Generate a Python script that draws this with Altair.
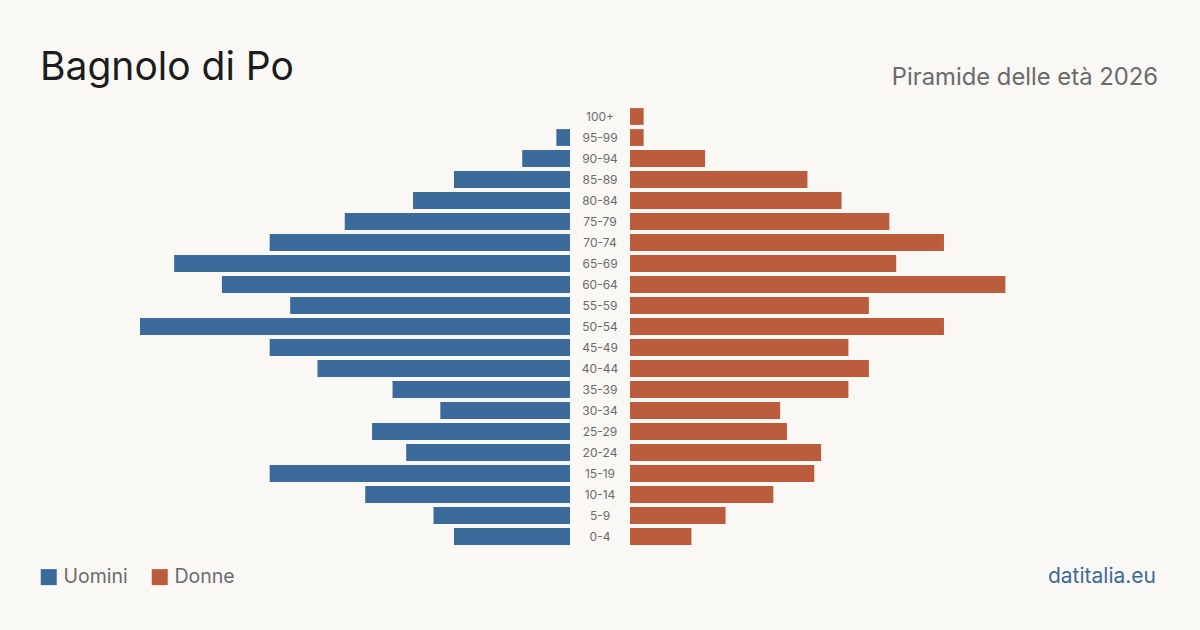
import altair as alt
import pandas as pd

# Age classes, bottom to top
ages = ["0-4", "5-9", "10-14", "15-19", "20-24", "25-29", "30-34", "35-39",
        "40-44", "45-49", "50-54", "55-59", "60-64", "65-69", "70-74",
        "75-79", "80-84", "85-89", "90-94", "95-99", "100+"]
men = [17, 20, 30, 44, 24, 29, 19, 26, 37, 44, 63, 41, 51, 58, 44, 33, 23, 17, 7, 2, 0]
women = [9, 14, 21, 27, 28, 23, 22, 32, 35, 32, 46, 35, 55, 39, 46, 38, 31, 26, 11, 2, 2]
sexes = ["Uomini", "Donne"]

BLUE = "#3b6b9b"
ORANGE = "#bb5d3d"
BG = "#f9f8f4"
FONT = "Inter"

# Plot geometry: each half is 430 px wide, the centre label column 60 px.
HALF_PX = 430
GAP_PX = 30
MAX_V = max(max(men), max(women))
GAP = MAX_V * GAP_PX / HALF_PX  # half-width of the label column, in people
LIM = MAX_V + GAP

rows = []
for a, m, w in zip(ages, men, women):
    rows.append({"eta": a, "sesso": "Uomini", "n": m, "start": -GAP, "end": -GAP - m})
    rows.append({"eta": a, "sesso": "Donne", "n": w, "start": GAP, "end": GAP + w})
df = pd.DataFrame(rows)
age_df = pd.DataFrame({"eta": ages})

order = ages[::-1]
y_enc = alt.Y("eta:N", sort=order,
              scale=alt.Scale(paddingInner=0.2, paddingOuter=0.1), axis=None)
x_scale = alt.Scale(domain=[-LIM, LIM], nice=False, zero=False)

bars = alt.Chart(df).mark_bar(cornerRadius=0).encode(
    y=y_enc,
    x=alt.X("start:Q", scale=x_scale, axis=None),
    x2="end:Q",
    color=alt.Color(
        "sesso:N",
        scale=alt.Scale(domain=sexes, range=[BLUE, ORANGE]),
        legend=alt.Legend(
            title=None, orient="none", direction="horizontal",
            legendX=-101, legendY=461, symbolType="square", symbolSize=256,
            symbolStrokeWidth=0, symbolOpacity=1, labelFont=FONT,
            labelFontSize=19.5, labelColor="#6b6b6b", labelOffset=5,
            columnPadding=22, padding=0,
        ),
    ),
)

labels = alt.Chart(age_df).mark_text(
    font=FONT, fontSize=12, color="#6b6b6b", baseline="middle", align="center"
).encode(y=y_enc, x=alt.datum(0), text="eta:N")

title = alt.Chart(pd.DataFrame({"t": ["Bagnolo di Po"]})).mark_text(
    font=FONT, fontSize=39, color="#1c1c1c", align="left", baseline="alphabetic"
).encode(x=alt.value(-100), y=alt.value(-26), text="t:N")

subtitle = alt.Chart(pd.DataFrame({"t": ["Piramide delle età 2026"]})).mark_text(
    font=FONT, fontSize=23.8, color="#6b6b6b", align="right", baseline="alphabetic"
).encode(x=alt.value(1018), y=alt.value(-21), text="t:N")

source = alt.Chart(pd.DataFrame({"t": ["datitalia.eu"]})).mark_text(
    font=FONT, fontSize=21, color=BLUE, align="right", baseline="alphabetic"
).encode(x=alt.value(1016), y=alt.value(477), text="t:N")

chart = alt.layer(bars, labels, title, subtitle, source).properties(
    width=920, height=441,
    padding={"left": 140, "right": 140, "top": 106, "bottom": 83},
    autosize=alt.AutoSizeParams(type="none"),
    background=BG,
).configure_view(stroke=None)

chart.save("out.html", embed_options={"renderer": "svg", "actions": False})
